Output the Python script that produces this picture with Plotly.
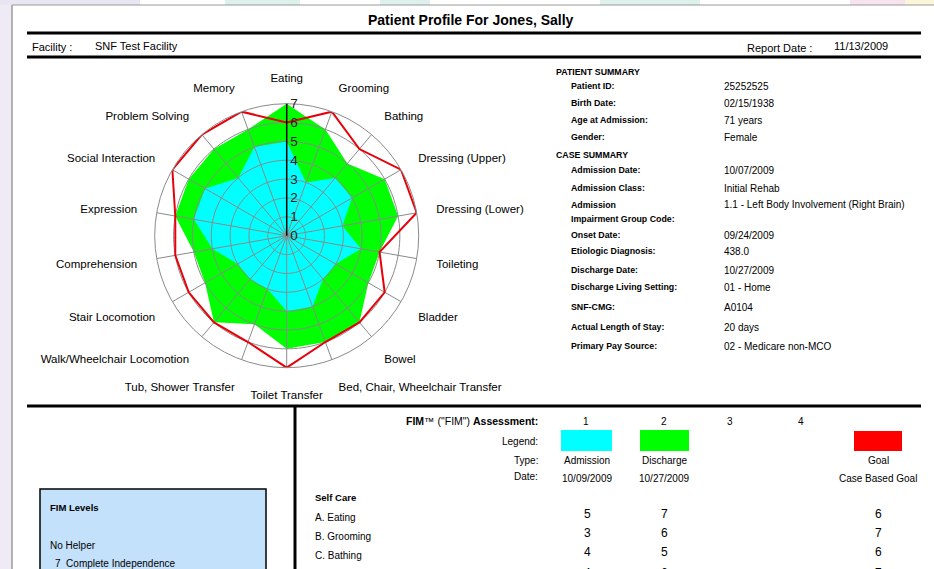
import numpy as np
import plotly.graph_objects as go

# ---------------- data ----------------
categories = ["Eating", "Grooming", "Bathing", "Dressing (Upper)", "Dressing (Lower)",
              "Toileting", "Bladder", "Bowel", "Bed, Chair, Wheelchair Transfer",
              "Toilet Transfer", "Tub, Shower Transfer", "Walk/Wheelchair Locomotion",
              "Stair Locomotion", "Comprehension", "Expression", "Social Interaction",
              "Problem Solving", "Memory"]
admission = [5, 3, 4, 4, 3, 4, 3, 3, 4, 4, 3, 3, 3, 4, 5, 5, 4, 5]
discharge = [7, 6, 5, 6, 6, 5, 5, 6, 6, 6, 5, 6, 5, 5, 6, 6, 6, 6]
goal = [6, 7, 6, 7, 7, 5, 6, 6, 6, 7, 6, 6, 6, 6, 6, 7, 7, 7]
radial_ticks = [0, 1, 2, 3, 4, 5, 6, 7]

table_rows = ["A. Eating", "B. Grooming", "C. Bathing", "D. Dressing - Upper Body"]
assessment_numbers = ["1", "2", "3", "4"]
assessment_types = ["Admission", "Discharge", "Goal"]
assessment_dates = ["10/09/2009", "10/27/2009", "Case Based Goal"]

patient_summary = [("Patient ID:", "25252525"), ("Birth Date:", "02/15/1938"),
                   ("Age at Admission:", "71 years"), ("Gender:", "Female")]
case_summary = [("Admission Date:", "10/07/2009"), ("Admission Class:", "Initial Rehab"),
                ("Admission", "1.1 - Left Body Involvement (Right Brain)"),
                ("Impairment Group Code:", ""),
                ("Onset Date:", "09/24/2009"), ("Etiologic Diagnosis:", "438.0"),
                ("Discharge Date:", "10/27/2009"), ("Discharge Living Setting:", "01 - Home"),
                ("SNF-CMG:", "A0104"), ("Actual Length of Stay:", "20 days"),
                ("Primary Pay Source:", "02 - Medicare non-MCO")]

# ---------------- helpers ----------------
W, H = 934, 569
FONT = "Liberation Sans, Arial, sans-serif"


def px(x):
    return x / W


def py(y):
    return 1 - y / H


annotations = []


def text(x, y, s, size=10, bold=False, anchor="left", color="black"):
    if bold:
        s = "<b>" + s + "</b>"
    annotations.append(dict(x=px(x), y=py(y), xref="paper", yref="paper", text=s,
                            showarrow=False, xanchor=anchor, yanchor="middle",
                            font=dict(family=FONT, size=size, color=color)))


shapes = []


def line(x0, y0, x1, y1, width=3, color="black"):
    shapes.append(dict(type="line", xref="paper", yref="paper", x0=px(x0), y0=py(y0),
                       x1=px(x1), y1=py(y1), line=dict(color=color, width=width)))


def rect(x0, y0, x1, y1, fill, lw=0, lc="black", layer="above"):
    shapes.append(dict(type="rect", xref="paper", yref="paper", x0=px(x0), y0=py(y0),
                       x1=px(x1), y1=py(y1), fillcolor=fill, layer=layer,
                       line=dict(color=lc, width=lw)))


# ---------------- radar ----------------
n = len(categories)
angles = [i * 360 / n for i in range(n)]
closed_theta = angles + [angles[0]]

fig = go.Figure()
fig.add_trace(go.Scatterpolar(r=discharge + [discharge[0]], theta=closed_theta, mode="lines",
                              fill="toself", fillcolor="#00FF00", line=dict(width=0, color="#00FF00"),
                              name="Discharge", hoverinfo="skip"))
fig.add_trace(go.Scatterpolar(r=admission + [admission[0]], theta=closed_theta, mode="lines",
                              fill="toself", fillcolor="#00FFFF", line=dict(width=0, color="#00FFFF"),
                              name="Admission", hoverinfo="skip"))

# grid drawn above the fills (as in the reference)
circ = np.arange(0, 361, 2).tolist()
gr, gt = [], []
for k in radial_ticks[1:-1]:
    gr += [k] * len(circ) + [None]
    gt += circ + [None]
for a in angles:
    gr += [0, radial_ticks[-1], None]
    gt += [a, a, None]
fig.add_trace(go.Scatterpolar(r=gr, theta=gt, mode="lines", line=dict(color="#8a8a8a", width=1),
                              hoverinfo="skip", connectgaps=False))

fig.add_trace(go.Scatterpolar(r=goal + [goal[0]], theta=closed_theta, mode="lines",
                              line=dict(color="#E8000B", width=2), name="Goal", hoverinfo="skip"))

cx, cy, R = 286.7, 235.7, 132
fig.update_layout(
    polar=dict(
        domain=dict(x=[px(cx - R), px(cx + R)], y=[py(cy + R), py(cy - R)]),
        bgcolor="white",
        angularaxis=dict(rotation=90, direction="clockwise", tickmode="array",
                         tickvals=angles, ticktext=categories, showgrid=False,
                         showline=True, linecolor="#8a8a8a", linewidth=1,
                         ticks="outside", ticklen=17, tickcolor="rgba(0,0,0,0)",
                         tickfont=dict(family=FONT, size=11.5, color="black")),
        radialaxis=dict(range=[0, 7], tickmode="array", tickvals=radial_ticks,
                        showgrid=False, showline=True, linecolor="black", linewidth=1.5,
                        ticks="", angle=90, tickangle=90, layer="above traces",
                        tickfont=dict(family=FONT, size=13.5, color="#222222")),
    )
)

# ---------------- watermark / page frame ----------------
rect(0, 0, 12, H, "#EEEBF6", layer="below")
rect(0, 0, 140, 5, "#E9E6F3", layer="below")
rect(225, 0, 300, 5, "#DDF0EC", layer="below")
rect(380, 0, 430, 5, "#DDF0EC", layer="below")
rect(600, 0, 700, 5, "#DDF0EC", layer="below")
rect(850, 0, 905, 5, "#F6E3EE", layer="below")
rect(905, 0, W, 5, "#FBF6DA", layer="below")
line(12, 5, W, 5, width=1, color="#9a9a9a")
line(12, 5, 12, H, width=1.5, color="#9a9a9a")

# ---------------- header ----------------
text(471, 20, "Patient Profile For Jones, Sally", size=14, bold=True, anchor="center")
line(27, 33, 921, 33, width=3)
text(30, 47, "Facility :", size=11)
text(93, 46, "SNF Test Facility", size=11)
text(745, 48, "Report Date :", size=11)
text(832, 46, "11/13/2009", size=11)
line(27, 57, 921, 57, width=3)

# ---------------- summary panel ----------------
text(554, 72, "PATIENT SUMMARY", size=8.8, bold=True)
ps_y = [86, 103, 120, 137]
for (lab, val), y in zip(patient_summary, ps_y):
    text(569, y, lab, size=8.8, bold=True)
    text(722, y, val, size=10)
text(554, 155, "CASE SUMMARY", size=8.8, bold=True)
cs_y = [170, 188, 205, 219, 235, 251, 270, 287, 307, 327, 346]
for (lab, val), y in zip(case_summary, cs_y):
    text(569, y, lab, size=8.8, bold=True)
    if val:
        text(722, y, val, size=10)

# ---------------- bottom section ----------------
line(27, 406, 921, 406, width=3)
line(295, 406, 295, H + 5, width=3)

rect(40, 489, 266, H + 40, "#C4E1FB", lw=1.5)
text(48, 507, "FIM Levels", size=9.5, bold=True)
text(48, 545, "No Helper", size=10)
text(53, 563, "7&nbsp;&nbsp;Complete Independence", size=10)

text(540, 421, "<b>FIM</b>™ (\"FIM\") <b>Assessment:</b>", size=10.5, anchor="right")
for s, x in zip(assessment_numbers, [586, 664, 730, 801]):
    text(x, 421, s, size=10, anchor="center")
text(540, 442, "Legend:", size=10, anchor="right")
rect(561, 430, 612, 451, "#00FFFF")
rect(640, 430, 689, 451, "#00FF00")
rect(854, 431, 902, 451, "#FF0000")
text(540, 460, "Type:", size=10, anchor="right")
text(540, 477, "Date:", size=10, anchor="right")
col_x = [587, 664, 878]
for s, d, x in zip(assessment_types, assessment_dates, col_x):
    text(x, 460, s, size=10, anchor="center")
    text(x, 478, d, size=10, anchor="center")

text(313, 497, "Self Care", size=9.5, bold=True)
row_y = [517, 536, 555, 576]
for i, (lab, y) in enumerate(zip(table_rows, row_y)):
    if y < H:
        text(313, y, lab, size=10)
    for series, x in zip([admission, discharge, goal], col_x):
        text(x, y - 3, str(series[i]), size=12, anchor="center")

fig.update_layout(
    width=W, height=H, margin=dict(l=0, r=0, t=0, b=0),
    paper_bgcolor="white", plot_bgcolor="white", showlegend=False,
    annotations=annotations, shapes=shapes,
)

fig.write_html("out.html", config={"displayModeBar": False},
               post_script="document.body.style.margin='0';document.body.style.overflow='hidden';")
